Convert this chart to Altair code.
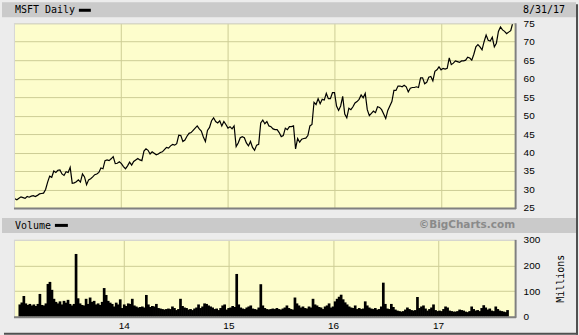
import altair as alt
import pandas as pd

years = [2013, 2014, 2015, 2016, 2017]
end_date = "2017-08-31"

# weekly closes (USD)
p2013 = [27.5, 27.2, 27.6, 28.0,
         27.8, 27.6, 28.1, 27.9,
         28.2, 28.3, 28.1, 28.4, 28.8,
         28.9, 29.0, 30.0, 32.0,
         33.6, 33.3, 35.0, 34.6, 35.2,
         35.3, 34.2, 33.8, 34.8,
         34.6, 36.0, 31.7, 31.8,
         32.1, 32.6, 32.0, 34.2, 33.4,
         31.3, 32.6, 32.9, 33.4,
         34.0, 34.2, 34.6, 35.8,
         35.6, 37.8, 38.0, 37.8, 38.3,
         38.9, 37.0, 37.1, 37.5]
p2014 = [37.0, 36.2, 35.6, 36.4, 37.4,
         36.6, 37.6, 38.0, 38.4,
         38.0, 37.8, 40.4, 41.0,
         40.6, 39.6, 40.2, 39.8,
         39.4, 39.6, 40.0, 40.2, 40.8,
         41.4, 41.2, 41.8, 42.2,
         42.0, 42.4, 44.7, 44.6,
         43.0, 43.4, 44.4, 45.2, 45.4,
         46.0, 46.6, 47.2, 46.4,
         45.8, 44.2, 43.0, 46.0, 46.8,
         48.6, 49.4, 48.4, 48.0,
         48.6, 47.2, 48.4, 47.6]
p2015 = [46.6, 47.0, 46.4, 47.2, 41.6,
         42.6, 44.0, 44.3, 44.0,
         42.6, 41.8, 43.0, 41.4,
         40.6, 42.0, 42.2, 48.0,
         48.8, 47.8, 48.4, 47.2, 47.0,
         46.4, 46.2, 46.2, 45.4,
         44.3, 44.6, 46.6, 46.2, 47.0,
         47.0, 47.2, 41.0, 43.8,
         42.8, 43.6, 43.8, 43.9,
         44.6, 47.2, 47.6, 53.6, 53.0,
         54.6, 53.2, 54.4, 54.2,
         56.0, 54.6, 54.6, 56.2]
p2016 = [56.2, 52.6, 51.4, 52.6, 55.2,
         50.4, 49.4, 52.0, 51.6,
         52.4, 53.4, 53.8, 54.4,
         55.6, 54.8, 56.0, 51.6, 50.0,
         50.6, 51.2, 50.8, 52.4,
         52.2, 51.6, 50.4, 49.2,
         51.4, 52.6, 53.8, 56.8, 56.8,
         58.0, 58.0, 57.8, 58.2,
         57.8, 56.4, 57.4, 57.6, 57.6,
         57.8, 57.6, 60.2, 60.2,
         58.6, 59.0, 60.4, 60.6,
         59.4, 62.0, 62.4, 63.2, 62.4]
p2017 = [62.8, 62.6, 62.8, 65.6,
         63.8, 64.2, 64.8, 64.6,
         64.4, 64.8, 64.8, 65.0, 65.8,
         65.6, 65.0, 66.6, 68.6,
         69.2, 68.6, 67.8, 70.0,
         71.8, 70.4, 70.2, 71.2, 68.6,
         69.6, 72.8, 74.0, 73.2,
         72.8, 72.2, 72.6, 73.0,
         74.8]

# weekly volume (millions of shares)
v2013 = [48, 56, 81, 52, 46, 50, 44, 48, 42, 50, 89, 46, 44,
         52, 128, 136, 105, 70, 58, 52, 60, 48, 62, 55, 66, 50,
         44, 50, 245, 72, 52, 46, 44, 70, 50, 75, 58, 62, 48,
         52, 46, 58, 112, 85, 62, 55, 50, 40, 55, 48, 68, 34]
v2014 = [48, 42, 52, 50, 70, 44, 40, 36, 38, 40, 36, 85, 48,
         38, 42, 40, 50, 34, 32, 30, 28, 30, 32, 30, 40, 34,
         26, 30, 70, 42, 36, 34, 28, 30, 26, 32, 36, 48, 34,
         40, 52, 50, 44, 40, 36, 30, 32, 26, 34, 44, 48, 28]
v2015 = [34, 36, 42, 38, 167, 48, 36, 32, 30, 36, 40, 44, 32,
         30, 28, 36, 127, 44, 34, 30, 28, 30, 32, 30, 34, 30,
         28, 32, 36, 44, 34, 30, 28, 75, 52, 44, 36, 40, 34,
         32, 40, 36, 70, 48, 44, 38, 36, 30, 40, 44, 52, 36]
v2016 = [40, 60, 70, 78, 86, 68, 56, 48, 40, 36, 34, 44, 30,
         34, 30, 32, 60, 44, 36, 32, 30, 34, 28, 30, 40, 133,
         50, 32, 30, 50, 38, 28, 24, 22, 20, 22, 28, 36, 30, 26,
         24, 26, 77, 34, 40, 44, 32, 24, 30, 36, 48, 26, 22]
v2017 = [24, 22, 30, 40, 36, 24, 22, 20, 20, 22, 28, 26, 24,
         20, 18, 22, 40, 30, 24, 26, 22, 34, 45, 36, 28, 32,
         24, 22, 40, 30, 24, 22, 20, 18, 26]

price_lists = [p2013, p2014, p2015, p2016, p2017]
vol_lists = [v2013, v2014, v2015, v2016, v2017]

rows = []
for y, p, v in zip(years, price_lists, vol_lists):
    d = list(pd.date_range(f"{y}-01-01", f"{y}-12-31", freq="W-FRI"))
    if y == 2017:
        d = d[:len(p) - 1] + [pd.Timestamp(end_date)]
    for di, pi, vi in zip(d, p, v):
        rows.append({"date": di.strftime("%Y-%m-%d"), "close": pi, "volume": vi})
df = pd.DataFrame(rows)
one = pd.DataFrame({"k": [0]})

W, HP, HV = 502, 185, 77
GRID = "#cdcd96"
HDR = "#cacaca"
MONO = "DejaVu Sans Mono"
SANS = "Liberation Sans"

x_dom = [alt.DateTime(year=2013, month=1, date=1, utc=True),
         alt.DateTime(year=2017, month=9, date=9, utc=True)]
x_vals = [alt.DateTime(year=yy, month=1, date=1, utc=True) for yy in [2014, 2015, 2016, 2017]]
xscale = alt.Scale(type="utc", domain=x_dom)


def deco(base_y):
    hdr = alt.Chart(one).mark_rect(color=HDR).encode(
        x=alt.value(-12), x2=alt.value(563), y=alt.value(base_y), y2=alt.value(base_y + 15))
    return hdr


def borders(h):
    bottom = alt.Chart(one).mark_rule(color="#808080", strokeWidth=2).encode(
        x=alt.value(0), x2=alt.value(W + 1), y=alt.value(h + 0.5))
    right = alt.Chart(one).mark_rule(color="#808080", strokeWidth=2).encode(
        x=alt.value(W + 0.5), y=alt.value(0), y2=alt.value(h + 1))
    top = alt.Chart(one).mark_rule(color="#d6d6d6", strokeWidth=1).encode(
        x=alt.value(0), x2=alt.value(W), y=alt.value(0.5))
    left = alt.Chart(one).mark_rule(color="#d6d6d6", strokeWidth=1).encode(
        x=alt.value(0.5), y=alt.value(0), y2=alt.value(h))
    return [top, left, bottom, right]


# ---- price panel ----
p_hdr = deco(-21)
p_title = alt.Chart(one).mark_text(align="left", baseline="alphabetic", font=MONO, fontSize=10,
                                   color="black").encode(
    x=alt.value(1), y=alt.value(-10), text=alt.value("MSFT Daily"))
p_leg = alt.Chart(one).mark_rule(color="black", strokeWidth=3).encode(
    x=alt.value(65), x2=alt.value(77), y=alt.value(-13))
p_date = alt.Chart(one).mark_text(align="left", baseline="alphabetic", font=MONO, fontSize=10,
                                  color="black").encode(
    x=alt.value(510), y=alt.value(-10), text=alt.value("8/31/17"))
p_line = alt.Chart(df).mark_line(color="black", strokeWidth=1.2).encode(
    x=alt.X("date:T", scale=xscale,
            axis=alt.Axis(values=x_vals, labels=False, ticks=False, domain=False, grid=True,
                          gridColor=GRID, title=None)),
    y=alt.Y("close:Q", scale=alt.Scale(domain=[25, 75], nice=False, zero=False),
            axis=alt.Axis(orient="right", values=list(range(25, 80, 5)), grid=True,
                          gridColor=GRID, ticks=False, domain=False, labelPadding=8,
                          labelFont=SANS, labelFontSize=10, labelColor="black", title=None)))
price = alt.layer(p_hdr, p_title, p_leg, p_date, p_line, *borders(HP)).properties(width=W, height=HP)

# ---- volume panel ----
v_hdr = deco(-22)
v_title = alt.Chart(one).mark_text(align="left", baseline="alphabetic", font=MONO, fontSize=10,
                                   color="black").encode(
    x=alt.value(1), y=alt.value(-11), text=alt.value("Volume"))
v_leg = alt.Chart(one).mark_rule(color="black", strokeWidth=3).encode(
    x=alt.value(41), x2=alt.value(54), y=alt.value(-14.5))
v_copy = alt.Chart(one).mark_text(align="right", baseline="alphabetic", font="DejaVu Sans",
                                  fontWeight="bold", fontSize=10.5, color="#8a8a8a").encode(
    x=alt.value(W), y=alt.value(-12), text=alt.value("©BigCharts.com"))
v_bars = alt.Chart(df).mark_bar(color="black", width=2.7).encode(
    x=alt.X("date:T", scale=xscale,
            axis=alt.Axis(values=x_vals, format="%y", grid=True, gridColor=GRID, ticks=False,
                          domain=False, labelPadding=4, labelFont=SANS, labelFontSize=10,
                          labelColor="black", title=None)),
    y=alt.Y("volume:Q", scale=alt.Scale(domain=[0, 300], nice=False),
            axis=alt.Axis(orient="right", values=[0, 100, 200, 300], grid=True, gridColor=GRID,
                          ticks=False, domain=False, labelPadding=8, labelFont=SANS,
                          labelFontSize=10, labelColor="black", title="Millions",
                          titleFont=MONO, titleFontSize=10, titleFontWeight="normal",
                          titleAngle=270, titlePadding=26, titleColor="black")))
frame_r = alt.Chart(one).mark_rule(color="#505050", strokeWidth=2).encode(
    x=alt.value(564), y=alt.value(-236), y2=alt.value(95))
frame_b = alt.Chart(one).mark_rule(color="#505050", strokeWidth=2).encode(
    x=alt.value(-10), x2=alt.value(565), y=alt.value(94))
volume = alt.layer(v_hdr, v_title, v_leg, v_copy, v_bars, *borders(HV), frame_r, frame_b).properties(
    width=W, height=HV)

chart = alt.vconcat(price, volume, spacing=32, bounds="flush").properties(
    background="#ececec",
    padding={"left": 2, "top": 2, "right": 0, "bottom": 0},
).configure_view(fill="#fdfdcc", stroke=None)

chart.save("out.html", embed_options={"renderer": "svg", "actions": False})
